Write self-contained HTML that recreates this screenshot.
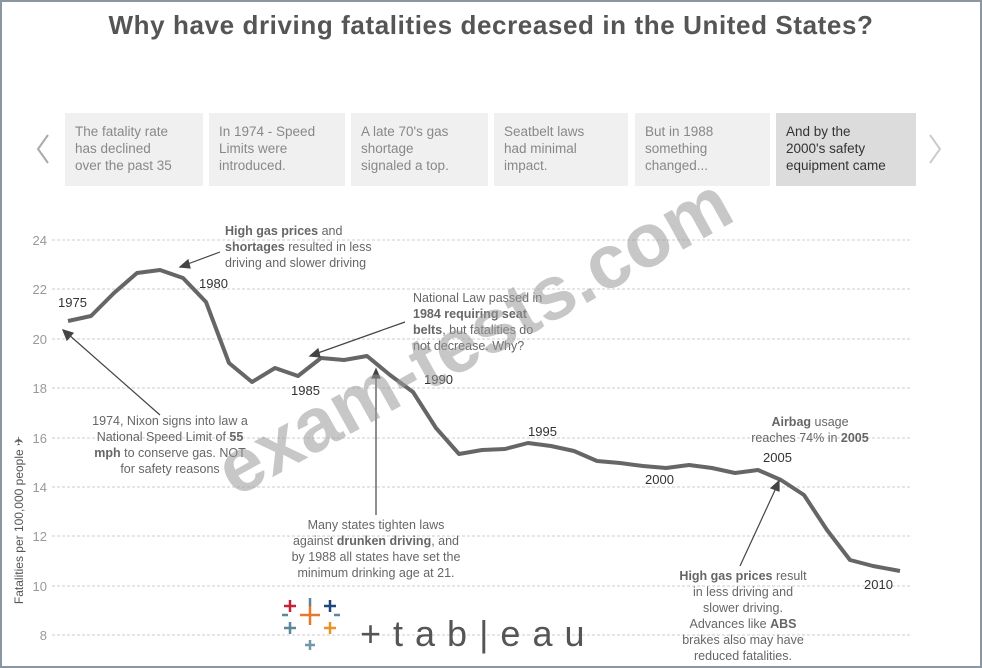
<!DOCTYPE html>
<html><head><meta charset="utf-8"><style>
body{margin:0;width:982px;height:668px;overflow:hidden;background:#fff;font-family:"Liberation Sans",sans-serif;}
.frame{position:absolute;left:0;top:0;width:978px;height:664px;border:2px solid #8a96a0;}
.title{position:absolute;top:10px;left:0;width:982px;text-align:center;font-size:26px;font-weight:bold;color:#555;letter-spacing:0.6px;}
.box{position:absolute;top:113px;height:73px;background:#f0f0f0;color:#888;font-size:13.5px;line-height:17px;padding:10px 0 0 10px;box-sizing:border-box;}
.sel{background:#dcdcdc;color:#333;}
</style></head><body>
<div class="frame"></div>
<div class="title">Why have driving fatalities decreased in the United States?</div>
<div class="box" style="left:65px;width:138px">The fatality rate<br>has declined<br>over the past 35</div>
<div class="box" style="left:209px;width:136px">In 1974 - Speed<br>Limits were<br>introduced.</div>
<div class="box" style="left:351px;width:137px">A late 70's gas<br>shortage<br>signaled a top.</div>
<div class="box" style="left:494px;width:134px">Seatbelt laws<br>had minimal<br>impact.</div>
<div class="box" style="left:635px;width:135px">But in 1988<br>something<br>changed...</div>
<div class="box sel" style="left:776px;width:140px">And by the<br>2000's safety<br>equipment came</div>
<svg width="982" height="668" style="position:absolute;left:0;top:0" font-family="Liberation Sans, sans-serif">
<polyline points="48,135 38,149 48,163" fill="none" stroke="#aaa" stroke-width="2"/>
<polyline points="930,135 940,149 930,163" fill="none" stroke="#ccc" stroke-width="2"/>
<g stroke="#ccc" stroke-dasharray="3,2" stroke-width="1">
<line x1="52" y1="240" x2="910" y2="240"/><line x1="52" y1="289" x2="910" y2="289"/><line x1="52" y1="339" x2="910" y2="339"/><line x1="52" y1="388" x2="910" y2="388"/><line x1="52" y1="438" x2="910" y2="438"/><line x1="52" y1="487" x2="910" y2="487"/><line x1="52" y1="536" x2="910" y2="536"/><line x1="52" y1="586" x2="910" y2="586"/><line x1="52" y1="635" x2="910" y2="635"/>
</g>
<g font-size="13" fill="#999" text-anchor="end">
<text x="47" y="245">24</text><text x="47" y="294">22</text><text x="47" y="344">20</text><text x="47" y="393">18</text><text x="47" y="443">16</text><text x="47" y="492">14</text><text x="47" y="541">12</text><text x="47" y="591">10</text><text x="47" y="640">8</text>
</g>
<text transform="translate(23,520) rotate(-90)" font-size="12" fill="#555" text-anchor="middle">Fatalities per 100,000 people ✈</text>
<polyline fill="none" stroke="#666" stroke-width="4" stroke-linejoin="round" points="68,321 91,316 114,293 137,273 160,270 183,278 206,302 229,363 252,382 275,368 298,376 321,358 344,360 367,356 390,375 413,392 436,428 459,454 482,450 505,449 528,443 551,446 574,451 597,461 620,463 643,466 666,468 689,465 712,468 735,473 758,470 781,480 804,495 827,530 850,560 873,566 900,571"/>
<g font-size="13" fill="#333">
<text x="58" y="307">1975</text><text x="199" y="288">1980</text><text x="291" y="395">1985</text><text x="424" y="384">1990</text><text x="528" y="436">1995</text><text x="645" y="484">2000</text><text x="763" y="462">2005</text><text x="864" y="589">2010</text>
</g>
<g font-size="12.5" fill="#666">
<text x="225" y="235"><tspan font-weight="bold">High gas prices</tspan> and</text>
<text x="225" y="251"><tspan font-weight="bold">shortages</tspan> resulted in less</text>
<text x="225" y="267">driving and slower driving</text>
<text x="413" y="302">National Law passed in</text>
<text x="413" y="318" font-weight="bold">1984 requiring seat</text>
<text x="413" y="334"><tspan font-weight="bold">belts</tspan>, but fatalities do</text>
<text x="413" y="350">not decrease.  Why?</text>
<g text-anchor="middle">
<text x="170" y="425">1974, Nixon signs into law a</text>
<text x="170" y="441">National Speed Limit of <tspan font-weight="bold">55</tspan></text>
<text x="170" y="457"><tspan font-weight="bold">mph</tspan> to conserve gas.  NOT</text>
<text x="170" y="473">for safety reasons</text>
<text x="376" y="529">Many states tighten laws</text>
<text x="376" y="545">against <tspan font-weight="bold">drunken driving</tspan>, and</text>
<text x="376" y="561">by 1988 all states have set the</text>
<text x="376" y="577">minimum drinking age at 21.</text>
<text x="810" y="426"><tspan font-weight="bold">Airbag</tspan> usage</text>
<text x="810" y="442">reaches 74% in <tspan font-weight="bold">2005</tspan></text>
<text x="743" y="580"><tspan font-weight="bold">High gas prices</tspan> result</text>
<text x="743" y="596">in less driving and</text>
<text x="743" y="612">slower driving.</text>
<text x="743" y="628">Advances like <tspan font-weight="bold">ABS</tspan></text>
<text x="743" y="644">brakes also may have</text>
<text x="743" y="660">reduced fatalities.</text>
</g></g>
<g stroke="#444" stroke-width="1.2" fill="#444">
<line x1="220" y1="252" x2="185" y2="265"/><polygon points="180,267 188,260 190,268"/>
<line x1="405" y1="322" x2="315" y2="354"/><polygon points="310,356 318,349 320,357"/>
<line x1="160" y1="415" x2="68" y2="334"/><polygon points="63,330 73,333 67,340"/>
<line x1="376" y1="515" x2="376" y2="375"/><polygon points="376,369 372,378 380,378"/>
<line x1="740" y1="566" x2="776" y2="488"/><polygon points="779,481 771,488 779,491"/>
</g>
<g stroke-width="2.5">
<line x1="310" y1="605" x2="310" y2="625" stroke="#e8762b"/><line x1="300" y1="615" x2="320" y2="615" stroke="#e8762b"/>
<line x1="290" y1="600" x2="290" y2="612" stroke="#c72037"/><line x1="284" y1="606" x2="296" y2="606" stroke="#c72037"/>
<line x1="330" y1="600" x2="330" y2="612" stroke="#1f457e"/><line x1="324" y1="606" x2="336" y2="606" stroke="#1f457e"/>
<line x1="290" y1="622" x2="290" y2="634" stroke="#5b879b"/><line x1="284" y1="628" x2="296" y2="628" stroke="#5b879b"/>
<line x1="330" y1="622" x2="330" y2="634" stroke="#eb9129"/><line x1="324" y1="628" x2="336" y2="628" stroke="#eb9129"/>
<line x1="310" y1="640" x2="310" y2="650" stroke="#7099a6"/><line x1="305" y1="645" x2="315" y2="645" stroke="#7099a6"/>
<line x1="310" y1="598" x2="310" y2="606" stroke="#59879b"/>
<line x1="282" y1="615" x2="288" y2="615" stroke="#59879b"/><line x1="334" y1="615" x2="340" y2="615" stroke="#59879b"/>
</g>
<text x="360" y="646" font-size="36" fill="#555" letter-spacing="12">+tab|eau</text>
<text transform="translate(235,498) rotate(-29)" font-size="76" font-weight="bold" fill="#999" fill-opacity="0.55">exam-tests.com</text>
</svg>
</body></html>
